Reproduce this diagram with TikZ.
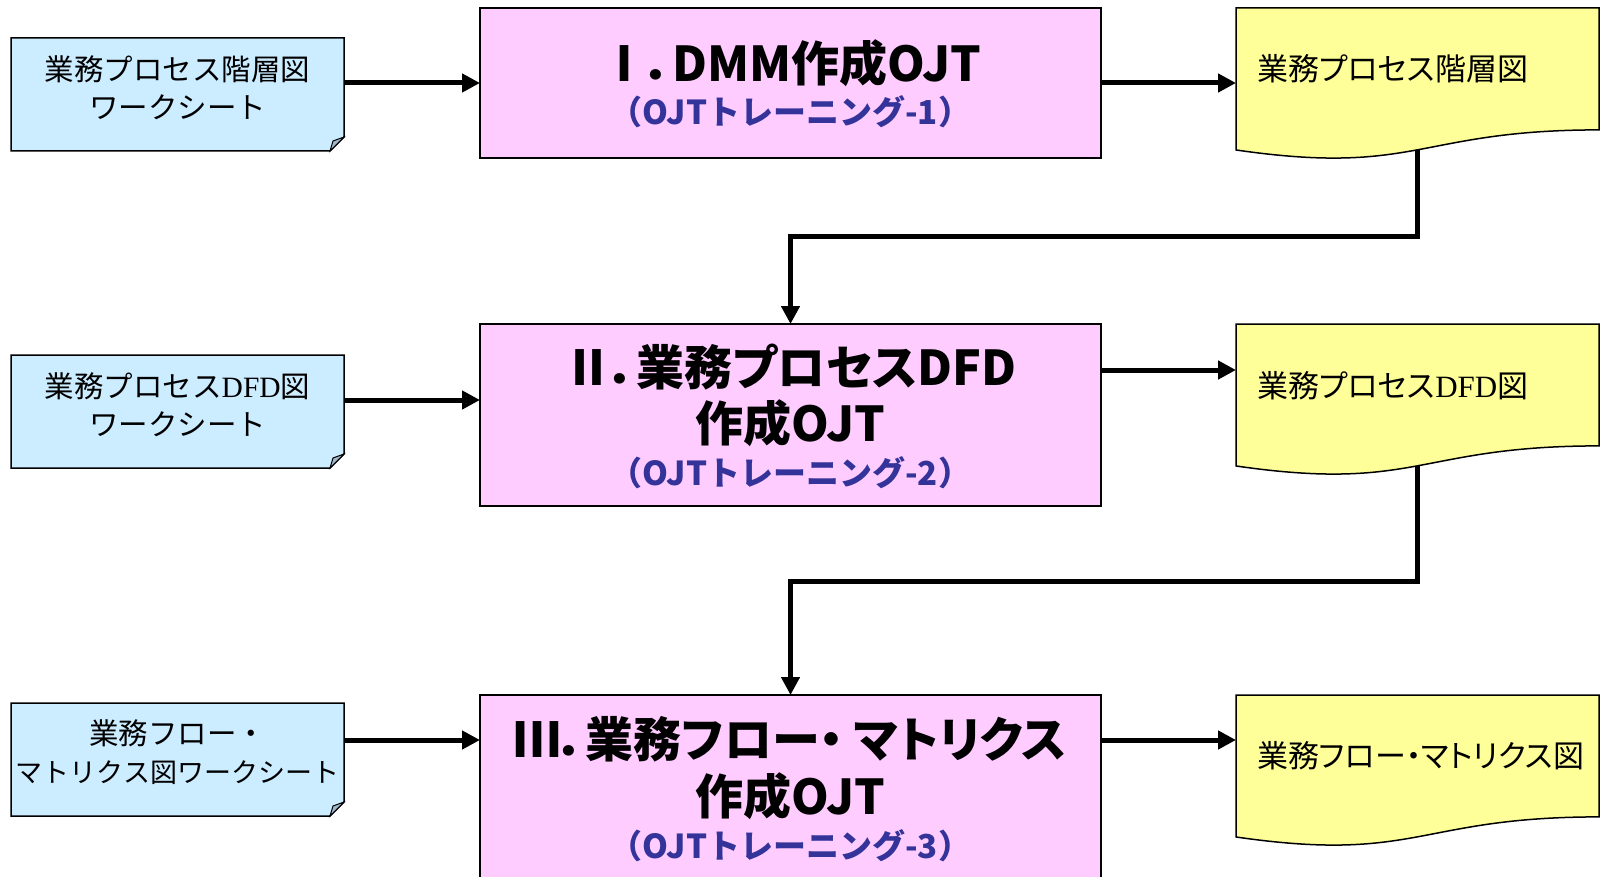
\documentclass[tikz,border=0pt]{standalone}
\usepackage{fontspec}
\usetikzlibrary{arrows.meta,calc}
\newfontfamily\jp{Noto Sans CJK JP}
\newfontfamily\jpp[RawFeature=+palt]{Noto Sans CJK JP}
\newfontfamily\serf{Liberation Serif}
\definecolor{bluef}{RGB}{204,236,255}
\definecolor{pinkf}{RGB}{255,204,255}
\definecolor{yelf}{RGB}{255,255,153}
\definecolor{subc}{RGB}{51,51,153}
\definecolor{foldc}{RGB}{160,184,204}
\tikzset{
  frame/.style={rectangle, draw=none, inner sep=0pt, outer sep=0pt},
  bluebox/.style={draw=black, fill=bluef, line width=1.5pt, line join=miter},
  foldtri/.style={draw=black, fill=foldc, line width=1pt},
  pinkbox/.style={rectangle, draw=black, fill=pinkf, line width=1.5pt, inner sep=0pt, outer sep=0pt, minimum width=621pt},
  yelbox/.style={draw=black, fill=yelf, line width=1.5pt},
  arr/.style={line width=5pt, -{Triangle[length=18pt,width=18pt]}},
  conn/.style={arr, line join=miter},
  btxt/.style={font=\jp\fontsize{29.5}{38}\selectfont, align=center, inner sep=0pt},
  ytxt/.style={font=\jpp\fontsize{31}{36}\selectfont, anchor=west, inner sep=0pt},
  ttl/.style={font=\jpp\bfseries\fontsize{48}{52}\selectfont, inner sep=0pt},
  subt/.style={font=\jp\bfseries\fontsize{33}{36}\selectfont, text=subc, inner sep=0pt}
}
\begin{document}
\begin{tikzpicture}[x=1pt,y=-1pt]
\useasboundingbox (0,0) rectangle (1600,877);
\fill[white] (0,0) rectangle (1600,877);
\clip (0,0) rectangle (1600,877);

% frames
\node[frame, minimum width=333pt, minimum height=113pt] (bl1) at (177.5,94.5) {};
\node[frame, minimum width=333pt, minimum height=113pt] (bl2) at (177.5,411.5) {};
\node[frame, minimum width=333pt, minimum height=113pt] (bl3) at (177.5,759.5) {};
\node[frame, minimum width=363pt, minimum height=152pt] (y1) at (1417.5,84) {};
\node[frame, minimum width=363pt, minimum height=152pt] (y2) at (1417.5,400) {};
\node[frame, minimum width=363pt, minimum height=152pt] (y3) at (1417.5,771) {};

% pink boxes
\node[pinkbox, minimum height=150pt] (pk1) at (790.5,83) {};
\node[pinkbox, minimum height=182pt] (pk2) at (790.5,415) {};
\node[pinkbox, minimum height=210pt] (pk3) at (790.5,800) {};

% connectors between rows (under the document shapes)
\coordinate (k1) at (790.5,237);
\coordinate (k2) at (790.5,581);
\draw[conn] (y1.center) |- (k1) -- (pk2.north);
\draw[conn] (y2.center) |- (k2) -- (pk3.north);

% blue folded-corner boxes
\foreach \b in {bl1,bl2,bl3}{
  \path[bluebox] (\b.north west) -- (\b.north east) -- ([yshift=14pt]\b.south east)
    -- ([xshift=-14pt]\b.south east) -- (\b.south west) -- cycle;
  \path[foldtri] ([xshift=-14pt]\b.south east) -- ([yshift=14pt]\b.south east)
    -- ([xshift=-11pt,yshift=10pt]\b.south east) -- cycle;
}

% yellow document shapes
\foreach \d in {y1,y2,y3}{
  \path[yelbox] (\d.north west) -- (\d.north east)
    -- ($(\d.north east)!0.802!(\d.south east)$)
    .. controls ($(\d.north)!0.802!(\d.south)$) and ($(\d.north)!1.1075!(\d.south)$)
    .. ($(\d.north west)!0.934!(\d.south west)$) -- cycle;
}

% horizontal arrows
\coordinate (a2) at (0,400);
\coordinate (b2) at (0,370);
\coordinate (a3) at (0,740);
\draw[arr] (bl1.east |- pk1.west) -- (pk1.west);
\draw[arr] (pk1.east) -- (pk1.east -| y1.west);
\draw[arr] (bl2.east |- a2) -- (pk2.west |- a2);
\draw[arr] (pk2.east |- b2) -- (y2.west |- b2);
\draw[arr] (bl3.east |- a3) -- (pk3.west |- a3);
\draw[arr] (pk3.east |- a3) -- (y3.west |- a3);

% texts: blue
\node[btxt] (tb1) at ([yshift=7pt]bl1.center) {業務プロセス階層図\\ワークシート};
\node[btxt] (tb2) at ([yshift=7pt]bl2.center) {業務プロセス{\serf DFD}図\\ワークシート};
\node[btxt] (tb3) at ([yshift=7pt]bl3.center) {業務フロー・\\{\fontsize{27}{38}\selectfont マトリクス図ワークシート}};

% texts: yellow
\node[ytxt] (ty1) at (1257,69) {業務プロセス階層図};
\node[ytxt] (ty2) at (1257,386) {業務プロセス{\serf DFD}図};
\node[ytxt] (ty3) at (1257,756) {業務フロー・マトリクス図};

% texts: pink
\node[ttl] (tp1) at (790.5,63) {Ⅰ．DMM作成OJT};
\node[subt] (sp1) at (790.5,112) {（OJTトレーニング-1）};
\node[ttl] (tp2a) at (790.5,367) {Ⅱ．業務プロセスDFD};
\node[ttl] (tp2b) at (790.5,423) {作成OJT};
\node[subt] (sp2) at (790.5,473) {（OJTトレーニング-2）};
\node[ttl] (tp3a) at (790.5,739) {Ⅲ．業務フロー・ マトリクス};
\node[ttl] (tp3b) at (790.5,796) {作成OJT};
\node[subt] (sp3) at (790.5,846) {（OJTトレーニング-3）};
\end{tikzpicture}
\end{document}
